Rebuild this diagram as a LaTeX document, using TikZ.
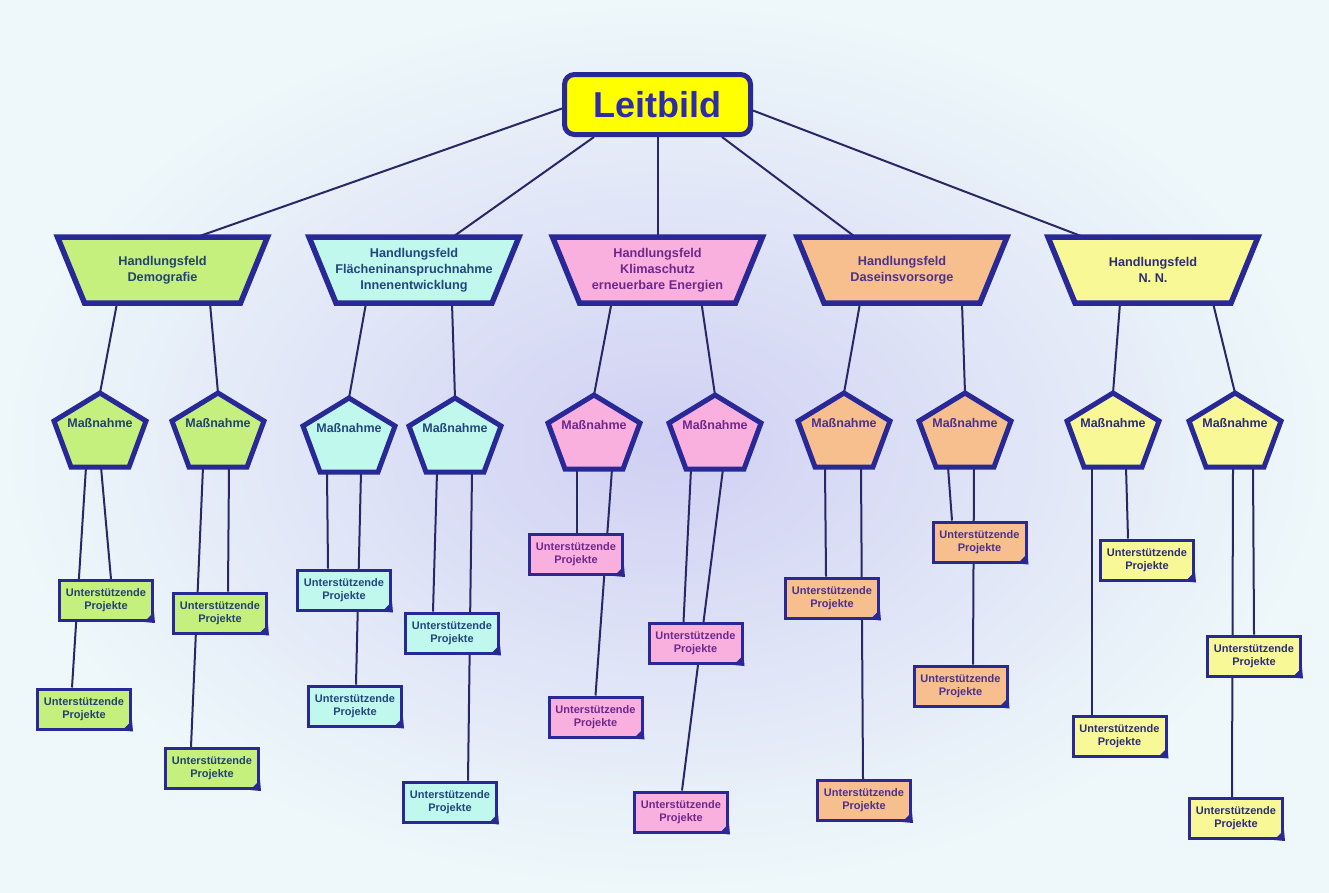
\documentclass[tikz,border=0pt]{standalone}
\usepackage{fontspec}
\setmainfont{Liberation Sans}
\usetikzlibrary{backgrounds}

\definecolor{randblau}{RGB}{40,40,150}
\definecolor{linie}{RGB}{40,40,100}
\definecolor{leitgelb}{RGB}{255,255,0}
\definecolor{leittext}{RGB}{45,45,165}
\definecolor{gruen}{RGB}{198,240,125}
\definecolor{gruentext}{RGB}{35,65,115}
\definecolor{tuerkis}{RGB}{192,248,238}
\definecolor{tuerkistext}{RGB}{35,70,125}
\definecolor{rosa}{RGB}{250,176,222}
\definecolor{rosatext}{RGB}{110,40,140}
\definecolor{apricot}{RGB}{247,190,142}
\definecolor{apricottext}{RGB}{75,50,140}
\definecolor{hellgelb}{RGB}{248,248,150}
\definecolor{hellgelbtext}{RGB}{45,45,120}
\definecolor{hgaussen}{RGB}{238,248,250}
\definecolor{hginnen}{RGB}{208,208,243}

\tikzset{
	link/.style={line width=2pt, draw=linie},
	leitbox/.style={draw=randblau, fill=leitgelb, text=leittext, line width=5pt, rounded corners=10pt, minimum width=186pt, minimum height=60pt, inner sep=0pt, font=\fontsize{36}{40}\selectfont\bfseries},
	feldrand/.style={line width=5.5pt, draw=randblau, line join=miter},
	feldtext/.style={minimum height=66pt, inner sep=0pt, align=center, font=\fontsize{12.7}{16}\selectfont\bfseries},
	massrand/.style={line width=5pt, draw=randblau, line join=miter},
	masstext/.style={inner sep=0pt, font=\fontsize{12.5}{15}\selectfont\bfseries},
	projekt/.style={draw=randblau, line width=3pt, minimum width=93pt, minimum height=40pt, inner sep=0pt, align=center, font=\fontsize{11}{13}\selectfont\bfseries}
}

\def\feld(#1)(#2)[#3]#4{\draw[feldrand, fill=#3] (#2-105,237) -- (#2+105,237) -- (#2+78,303) -- (#2-78,303) -- cycle;
	\node[feldtext, text=#3text] (#1) at (#2,270) {#4};}
\def\massnahme(#1)(#2,#3)[#4]{\draw[massrand, fill=#4] (#2,#3) -- (#2+46,#3+28) -- (#2+29,#3+74) -- (#2-29,#3+74) -- (#2-46,#3+28) -- cycle;
	\node[masstext, text=#4text] (#1) at (#2,#3+30) {Maßnahme};
	\coordinate (#1o) at (#2,#3);
	\coordinate (#1u) at (#2,#3+74);}
\def\projekt(#1)(#2)[#3]{\node[projekt, fill=#3, text=#3text] (#1) at (#2) {Unterstützende\\Projekte};
	\fill[randblau] ([xshift=-10pt]#1.south east) -- ([yshift=10pt]#1.south east) -- ([shift={(1,1)}]#1.south east) -- cycle;}

\begin{document}
\begin{tikzpicture}[x=1pt, y=-1pt]
			%%%%% START %%%%%
			
			\useasboundingbox (0,0) rectangle (1329,892);
			\begin{scope}[on background layer]
				\shade[inner color=hginnen, outer color=hgaussen] (0,0) rectangle (1329,892);
			\end{scope}
			
			\node[leitbox] (leitbild) at (657.5,104.5) {Leitbild};
			
			\feld(demo)(162.5)[gruen]{Handlungsfeld\\Demografie}
			\feld(flaeche)(414)[tuerkis]{Handlungsfeld\\Flächeninanspruchnahme\\Innenentwicklung}
			\feld(klima)(657.5)[rosa]{Handlungsfeld\\Klimaschutz\\erneuerbare Energien}
			\feld(dasein)(902)[apricot]{Handlungsfeld\\Daseinsvorsorge}
			\feld(nn)(1153)[hellgelb]{Handlungsfeld\\N. N.}
			
			\massnahme(d1)(100,393)[gruen]
			\massnahme(d2)(218,393)[gruen]
			\massnahme(f1)(349,398)[tuerkis]
			\massnahme(f2)(455,398)[tuerkis]
			\massnahme(k1)(594,395)[rosa]
			\massnahme(k2)(715,395)[rosa]
			\massnahme(v1)(844,393)[apricot]
			\massnahme(v2)(965,393)[apricot]
			\massnahme(n1)(1113,393)[hellgelb]
			\massnahme(n2)(1235,393)[hellgelb]
			
			\projekt(d1a)(106,600.5)[gruen]
			\projekt(d1b)(84,709)[gruen]
			\projekt(d2a)(220,613)[gruen]
			\projekt(d2b)(212,768.5)[gruen]
			
			\projekt(f1a)(344,590)[tuerkis]
			\projekt(f1b)(355,706)[tuerkis]
			\projekt(f2a)(452,633)[tuerkis]
			\projekt(f2b)(450,802)[tuerkis]
			
			\projekt(k1a)(576,554.5)[rosa]
			\projekt(k1b)(595.5,717)[rosa]
			\projekt(k2a)(695.5,643.5)[rosa]
			\projekt(k2b)(681,812)[rosa]
			
			\projekt(v1a)(832,598)[apricot]
			\projekt(v1b)(864,800.5)[apricot]
			\projekt(v2a)(979.5,542)[apricot]
			\projekt(v2b)(960.5,686)[apricot]
			
			\projekt(n1a)(1147,560)[hellgelb]
			\projekt(n1b)(1119.5,736)[hellgelb]
			\projekt(n2a)(1254,656)[hellgelb]
			\projekt(n2b)(1236,818.5)[hellgelb]
			
			% Linien hinter den Formen
			\begin{scope}[on background layer]
				\draw[link] ([yshift=-4pt]leitbild.west) -- ([xshift=35pt]demo.north);
				\draw[link] ([xshift=32pt]leitbild.south west) -- ([xshift=39pt]flaeche.north);
				\draw[link] (leitbild.south) -- (klima.north);
				\draw[link] ([xshift=-31pt]leitbild.south east) -- ([xshift=-47pt]dasein.north);
				\draw[link] ([yshift=-6pt]leitbild.east) -- ([xshift=-70pt]nn.north);
				
				\draw[link] ([xshift=-45.5pt]demo.south) -- (d1o);
				\draw[link] ([xshift=47.5pt]demo.south) -- (d2o);
				\draw[link] ([xshift=-48pt]flaeche.south) -- (f1o);
				\draw[link] ([xshift=38pt]flaeche.south) -- (f2o);
				\draw[link] ([xshift=-46pt]klima.south) -- (k1o);
				\draw[link] ([xshift=44pt]klima.south) -- (k2o);
				\draw[link] ([xshift=-42pt]dasein.south) -- (v1o);
				\draw[link] ([xshift=60pt]dasein.south) -- (v2o);
				\draw[link] ([xshift=-33pt]nn.south) -- (n1o);
				\draw[link] ([xshift=60pt]nn.south) -- (n2o);
				
				\draw[link] ([xshift=-14pt]d1u) -- ([xshift=-12pt]d1b.north);
				\draw[link] ([xshift=1pt]d1u) -- ([xshift=5pt]d1a.north);
				\draw[link] ([xshift=-15pt]d2u) -- ([xshift=-21pt]d2b.north);
				\draw[link] ([xshift=11pt]d2u) -- ([xshift=8pt]d2a.north);
				
				\draw[link] ([xshift=-22pt]f1u) -- ([xshift=-16pt]f1a.north);
				\draw[link] ([xshift=12pt]f1u) -- ([xshift=1pt]f1b.north);
				\draw[link] ([xshift=-18pt]f2u) -- ([xshift=-19pt]f2a.north);
				\draw[link] ([xshift=17pt]f2u) -- ([xshift=18pt]f2b.north);
				
				\draw[link] ([xshift=-17pt]k1u) -- ([xshift=1pt]k1a.north);
				\draw[link] ([xshift=18pt]k1u) -- (k1b.north);
				\draw[link] ([xshift=-24pt]k2u) -- ([xshift=-12pt]k2a.north);
				\draw[link] ([xshift=8pt]k2u) -- ([xshift=1pt]k2b.north);
				
				\draw[link] ([xshift=-19pt]v1u) -- ([xshift=-6pt]v1a.north);
				\draw[link] ([xshift=17pt]v1u) -- ([xshift=-1pt]v1b.north);
				\draw[link] ([xshift=-17pt]v2u) -- ([xshift=-27.5pt]v2a.north);
				\draw[link] ([xshift=9pt]v2u) -- ([xshift=12.5pt]v2b.north);
				
				\draw[link] ([xshift=-21pt]n1u) -- ([xshift=-27.5pt]n1b.north);
				\draw[link] ([xshift=13pt]n1u) -- ([xshift=-19pt]n1a.north);
				\draw[link] ([xshift=-2pt]n2u) -- ([xshift=-4pt]n2b.north);
				\draw[link] ([xshift=18pt]n2u) -- (n2a.north);
			\end{scope}
			
			%%%%% END %%%%%
\end{tikzpicture}
\end{document}
